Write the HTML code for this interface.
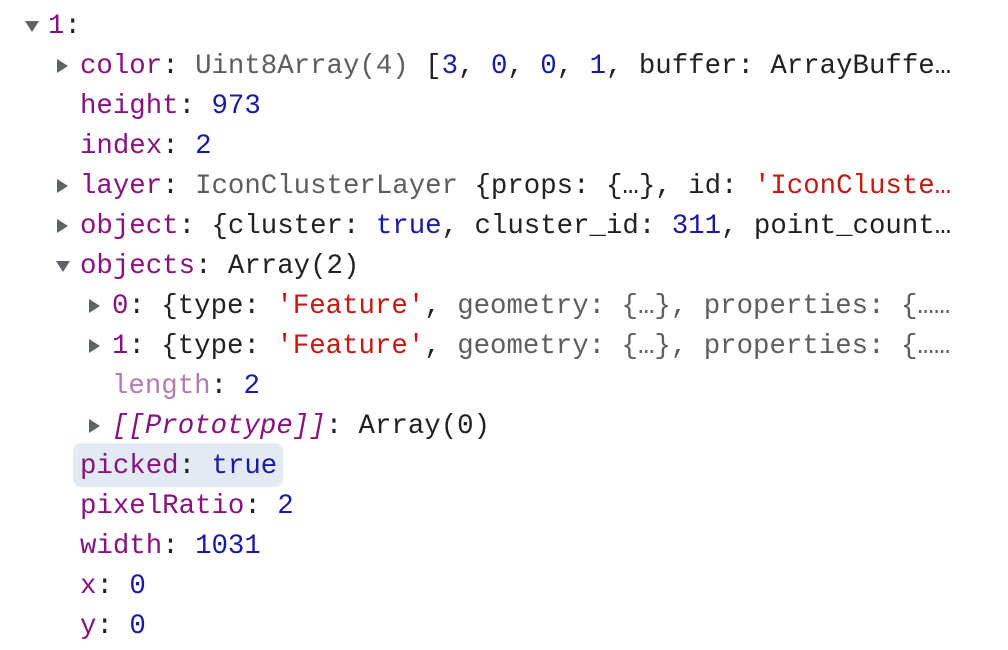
<!DOCTYPE html>
<html><head><meta charset="utf-8"><style>
body{margin:0;width:1008px;height:650px;background:#fff;overflow:hidden;font-family:"Liberation Mono","DejaVu Sans Mono",monospace;font-size:27.4px;color:#222}
.l{position:absolute;height:40px;line-height:40px;white-space:pre;margin-top:3px}
.k{color:#881280}.n{color:#1a1aa6}.s{color:#c41a16}.g{color:#5e5e5e}.d{color:#b27cb5}.i{font-style:italic;color:#881280}
.tr{position:absolute;width:0;height:0;border-top:7px solid transparent;border-bottom:7px solid transparent;border-left:11px solid #5f6368;margin-top:2px}
.td{position:absolute;width:0;height:0;border-left:7px solid transparent;border-right:7px solid transparent;border-top:11px solid #5f6368;margin-top:2px}
.hl{position:absolute;left:73px;top:443px;width:210px;height:44px;background:#e4eaf3;border-radius:8px}
</style></head><body>
<div class="hl"></div>
<div class="td" style="left:25px;top:19px"></div>
<div class="l" style="left:48px;top:4px"><span class="k">1</span>:</div>
<div class="tr" style="left:57px;top:57px"></div>
<div class="l" style="left:80px;top:44px"><span class="k">color</span>: <span class="g">Uint8Array(4)</span> [<span class="n">3</span>, <span class="n">0</span>, <span class="n">0</span>, <span class="n">1</span>, buffer: ArrayBuffe…</div>
<div class="l" style="left:80px;top:84px"><span class="k">height</span>: <span class="n">973</span></div>
<div class="l" style="left:80px;top:124px"><span class="k">index</span>: <span class="n">2</span></div>
<div class="tr" style="left:57px;top:177px"></div>
<div class="l" style="left:80px;top:164px"><span class="k">layer</span>: <span class="g">IconClusterLayer</span> {props: {…}, id: <span class="s">'IconCluste…</span></div>
<div class="tr" style="left:57px;top:217px"></div>
<div class="l" style="left:80px;top:204px"><span class="k">object</span>: {cluster: <span class="n">true</span>, cluster_id: <span class="n">311</span>, point_count…</div>
<div class="td" style="left:56px;top:259px"></div>
<div class="l" style="left:80px;top:244px"><span class="k">objects</span>: Array(2)</div>
<div class="tr" style="left:89px;top:297px"></div>
<div class="l" style="left:112px;top:284px"><span class="k">0</span>: {type: <span class="s">'Feature'</span>, <span class="g">geometry: {…}, properties: {……</span></div>
<div class="tr" style="left:89px;top:337px"></div>
<div class="l" style="left:112px;top:324px"><span class="k">1</span>: {type: <span class="s">'Feature'</span>, <span class="g">geometry: {…}, properties: {……</span></div>
<div class="l" style="left:112px;top:364px"><span class="d">length</span>: <span class="n">2</span></div>
<div class="tr" style="left:89px;top:417px"></div>
<div class="l" style="left:112px;top:404px"><span class="i">[[Prototype]]</span>: Array(0)</div>
<div class="l" style="left:80px;top:444px"><span class="k">picked</span>: <span class="n">true</span></div>
<div class="l" style="left:80px;top:484px"><span class="k">pixelRatio</span>: <span class="n">2</span></div>
<div class="l" style="left:80px;top:524px"><span class="k">width</span>: <span class="n">1031</span></div>
<div class="l" style="left:80px;top:564px"><span class="k">x</span>: <span class="n">0</span></div>
<div class="l" style="left:80px;top:604px"><span class="k">y</span>: <span class="n">0</span></div>
</body></html>
